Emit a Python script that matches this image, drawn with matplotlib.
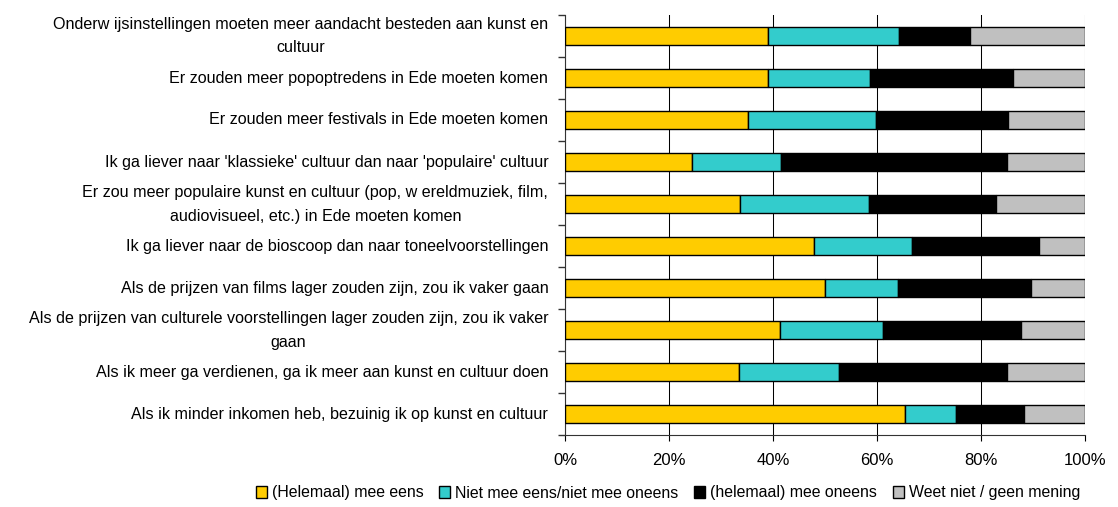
import matplotlib
matplotlib.use("Agg")
import matplotlib.pyplot as plt
import numpy as np
from matplotlib.ticker import FixedLocator, PercentFormatter

plt.rcParams['font.family'] = ['Liberation Sans', 'DejaVu Sans']

categories = [
    "Onderw ijsinstellingen moeten meer aandacht besteden aan kunst en\ncultuur",
    "Er zouden meer popoptredens in Ede moeten komen",
    "Er zouden meer festivals in Ede moeten komen",
    "Ik ga liever naar 'klassieke' cultuur dan naar 'populaire' cultuur",
    "Er zou meer populaire kunst en cultuur (pop, w ereldmuziek, film,\naudiovisueel, etc.) in Ede moeten komen",
    "Ik ga liever naar de bioscoop dan naar toneelvoorstellingen",
    "Als de prijzen van films lager zouden zijn, zou ik vaker gaan",
    "Als de prijzen van culturele voorstellingen lager zouden zijn, zou ik vaker\ngaan",
    "Als ik meer ga verdienen, ga ik meer aan kunst en cultuur doen",
    "Als ik minder inkomen heb, bezuinig ik op kunst en cultuur",
]
series_names = ["(Helemaal) mee eens", "Niet mee eens/niet mee oneens",
                "(helemaal) mee oneens", "Weet niet / geen mening"]
eens = [39.0, 39.0, 35.1, 24.5, 33.7, 47.9, 50.0, 41.3, 33.4, 65.3]
neutraal = [25.3, 19.6, 24.8, 17.1, 24.7, 18.8, 14.1, 19.9, 19.2, 9.9]
oneens = [13.6, 27.6, 25.3, 43.4, 24.5, 24.5, 25.6, 26.5, 32.4, 13.1]
weetniet = [22.1, 13.8, 14.8, 15.0, 17.1, 8.8, 10.3, 12.3, 15.0, 11.7]
colors = ["#FFCC00", "#33CCCC", "#000000", "#C0C0C0"]
xticks = [0, 20, 40, 60, 80, 100]

fig = plt.figure(figsize=(11.18, 5.07), dpi=100)
ax = fig.add_axes([565/1118, 1-435/507, 520/1118, 420/507])

y = np.arange(len(categories))
left = np.zeros(len(categories))
handles = []
for vals, c, name in zip([eens, neutraal, oneens, weetniet], colors, series_names):
    h = ax.barh(y, vals, left=left, height=0.43, color=c, edgecolor="black",
                linewidth=1.0, label=name, zorder=3)
    handles.append(h)
    left = left + np.array(vals)

ax.set_ylim(len(categories) - 0.5, -0.5)
ax.set_xlim(0, 100)
ax.set_yticks(y)
ax.set_yticklabels(categories, fontsize=11.6, ha="right", va="center",
                   multialignment="center", linespacing=1.75)
ax.tick_params(axis="y", which="major", length=0, pad=12)
ax.yaxis.set_minor_locator(FixedLocator(np.arange(-0.5, len(categories), 1)))
ax.tick_params(axis="y", which="minor", length=5, width=1, direction="out", color="#333333")

ax.set_xticks(xticks)
ax.xaxis.set_major_formatter(PercentFormatter(decimals=0))
ax.tick_params(axis="x", labelsize=12, length=4, pad=9)
ax.grid(axis="x", color="black", linewidth=0.75, zorder=0)
for s in ["top", "right"]:
    ax.spines[s].set_visible(False)
ax.spines["left"].set_color("#333333")
ax.spines["bottom"].set_color("#333333")

leg = fig.legend(handles=handles, loc="center", bbox_to_anchor=(668/1118, 1-493/507),
                 ncol=4, frameon=False, fontsize=11.4, handlelength=0.7, handleheight=0.7,
                 handletextpad=0.3, columnspacing=1.0)

fig.savefig("out.png", dpi=100)
